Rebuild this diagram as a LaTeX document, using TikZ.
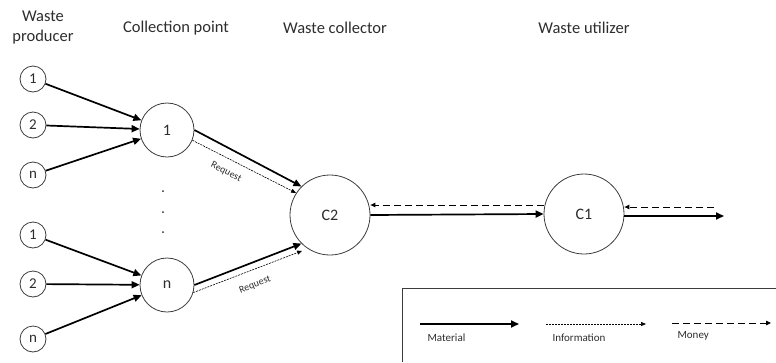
\documentclass[tikz,border=0pt]{standalone}
\usepackage{fontspec}
\setmainfont{Carlito}
\usetikzlibrary{arrows.meta}
\definecolor{txt}{RGB}{45,45,45}
\definecolor{edge}{RGB}{60,60,60}
\begin{document}
\begin{tikzpicture}[x=1pt,y=-1pt,
  small/.style={circle,draw=edge,line width=0.8pt,minimum size=26pt,inner sep=0pt,text=txt,font=\fontsize{15}{18}\selectfont},
  mid/.style={circle,draw=edge,line width=0.8pt,minimum size=54pt,inner sep=0pt,text=txt,font=\fontsize{16}{19}\selectfont},
  big/.style={circle,draw=edge,line width=0.8pt,minimum size=80pt,inner sep=0pt,text=txt,font=\fontsize{16}{19}\selectfont},
  head/.style={text=txt,align=center,font=\fontsize{16.5}{20}\selectfont},
  legtext/.style={text=txt,anchor=west,font=\fontsize{11}{13}\selectfont},
  material/.style={line width=1.7pt,-{Triangle[length=8pt,width=7pt]}},
  info/.style={line width=0.6pt,dash pattern=on 2pt off 1pt,-{Triangle[length=5pt,width=4pt]}},
  money/.style={line width=0.9pt,dash pattern=on 7pt off 4pt,-{Triangle[length=5pt,width=4.5pt]}},
  reqtext/.style={text=txt,font=\fontsize{10}{12}\selectfont,inner sep=0pt}
]
\useasboundingbox (0,0) rectangle (776,362);

% headings
\node[head] (h1) at (43,28) {Waste\\producer};
\node[head] (h2) at (176,28) {Collection point};
\node[head] (h3) at (335,28) {Waste collector};
\node[head] (h4) at (584,28) {Waste utilizer};

% producers
\node[small] (a1) at (33,79) {1};
\node[small] (a2) at (33,125) {2};
\node[small] (a3) at (33,175) {n};
\node[small] (b1) at (33,235) {1};
\node[small] (b2) at (33,284) {2};
\node[small] (b3) at (33,339) {n};

% collection points
\node[mid] (cp1) at (167,130) {1};
\node[mid] (cpn) at (167,285) {n};

% dots
\node[circle,fill=txt,inner sep=0pt,minimum size=2pt] (d1) at (163,191) {};
\node[circle,fill=txt,inner sep=0pt,minimum size=2pt] (d2) at (163,212) {};
\node[circle,fill=txt,inner sep=0pt,minimum size=2pt] (d3) at (163,232) {};

% collector and utilizer
\node[big] (c2) at (330,215) {C2};
\node[big] (c1) at (584,214) {C1};

% producer -> collection point
\draw[material] (a1) -- (cp1);
\draw[material] (a2) -- (cp1);
\draw[material] (a3) -- (cp1);
\draw[material] (b1) -- (cpn);
\draw[material] (b2) -- (cpn);
\draw[material] (b3) -- (cpn);

% collection point -> collector
\draw[material] (cp1.east) -- (c2.north west);
\draw[info] (cp1.-22) -- (c2.147);
\node[reqtext,rotate=-27] (r1) at (226,172) {Request};
\draw[material] (cpn.east) -- (c2.south west);
\draw[info] (cpn.-16) -- ([shift={(-3,4)}]c2.232);
\node[reqtext,rotate=21] (r2) at (255,285) {Request};

% collector <-> utilizer
\coordinate (mny) at (0,205);
\draw[material] (c2.east) -- (c1.west);
\draw[money] (c1.west |- mny) -- (c2.east |- mny);
\coordinate (out) at (724,216);
\coordinate (inm) at (714,207);
\draw[material] (c1.east |- out) -- (out);
\draw[money] (inm) -- (c1.east |- inm);

% legend
\coordinate (lb1) at (776,288);
\coordinate (lb2) at (402,288);
\coordinate (lb3) at (402,362);
\draw[edge,line width=0.9pt] (lb1) -- (lb2) -- (lb3);
\coordinate (m1) at (420,324);
\coordinate (m2) at (519,324);
\draw[material] (m1) -- (m2);
\node[legtext] (lm) at (424,338) {Material};
\coordinate (i1) at (546,324);
\coordinate (i2) at (646,324);
\draw[info] (i1) -- (i2);
\node[legtext] (li) at (549,338) {Information};
\coordinate (y1) at (672,323);
\coordinate (y2) at (771,323);
\draw[money] (y1) -- (y2);
\node[legtext] (ly) at (674,336) {Money};
\end{tikzpicture}
\end{document}
